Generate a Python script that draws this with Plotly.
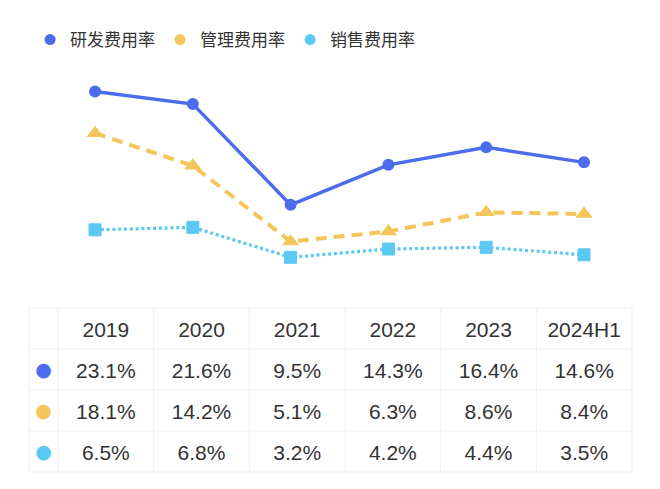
import plotly.graph_objects as go

periods = ["2019", "2020", "2021", "2022", "2023", "2024H1"]
series_names = ["研发费用率", "管理费用率", "销售费用率"]
rd_rate = [23.1, 21.6, 9.5, 14.3, 16.4, 14.6]
admin_rate = [18.1, 14.2, 5.1, 6.3, 8.6, 8.4]
sales_rate = [6.5, 6.8, 3.2, 4.2, 4.4, 3.5]

colors = ["#4B6CEB", "#F4C55B", "#5CC8F4"]
all_values = [rd_rate, admin_rate, sales_rate]

W, H = 660, 489
fig = go.Figure()

# line traces
fig.add_trace(go.Scatter(
    x=periods, y=rd_rate, mode="lines+markers", showlegend=False,
    line=dict(color=colors[0], width=3.5),
    marker=dict(symbol="circle", size=12, color=colors[0])))
fig.add_trace(go.Scatter(
    x=periods, y=admin_rate, mode="lines+markers", showlegend=False,
    line=dict(color=colors[1], width=4, dash="11px,7px"),
    marker=dict(symbol="triangle-up", size=15, color=colors[1])))
fig.add_trace(go.Scatter(
    x=periods, y=sales_rate, mode="lines+markers", showlegend=False,
    line=dict(color=colors[2], width=3.2, dash="3px,2.8px"),
    marker=dict(symbol="square", size=12, color=colors[2],
                line=dict(color=colors[2], width=1))))

# legend entries (circle only)
for name, c in zip(series_names, colors):
    fig.add_trace(go.Scatter(x=[None], y=[None], mode="markers", name=name,
                             marker=dict(symbol="circle", size=11, color=c)))

# table geometry (pixels, from top-left of figure)
t_left, t_right, t_top = 21, 624, 300
row_h = 41
first_w = 29
n_rows = 4
col_w = (t_right - t_left - first_w) / len(periods)
t_bottom = t_top + row_h * n_rows
text_shift = 5

dot_col = ["●", "●", "●"]
cols = [dot_col] + [[f"{all_values[s][i]:.1f}%" for s in range(3)] for i in range(len(periods))]
font_colors = [colors] + [["#333333"] * 3 for _ in periods]
font_fams = ["DejaVu Sans"] + ["Liberation Sans"] * len(periods)
font_sizes = [19] + [21] * len(periods)

fig.add_trace(go.Table(
    domain=dict(x=[t_left / W, t_right / W],
                y=[(H - t_bottom - text_shift) / H, (H - t_top - text_shift) / H]),
    columnwidth=[first_w] + [col_w] * len(periods),
    header=dict(values=[""] + periods, height=row_h, align="center",
                fill_color="rgba(0,0,0,0)", line=dict(color="rgba(0,0,0,0)", width=0),
                font=dict(family="Liberation Sans", size=21, color="#333333")),
    cells=dict(values=cols, height=row_h, align="center",
               fill_color="rgba(0,0,0,0)", line=dict(color="rgba(0,0,0,0)", width=0),
               font=dict(family=font_fams, size=font_sizes, color=font_colors)),
))

# table grid lines
grid = "#EFEFEF"
shapes = []
for r in range(n_rows + 1):
    yy = 1 - (t_top + r * row_h) / H
    shapes.append(dict(type="line", xref="paper", yref="paper",
                       x0=t_left / W, x1=t_right / W, y0=yy, y1=yy,
                       line=dict(color=grid, width=1), layer="below"))
xs = [t_left, t_left + first_w] + [t_left + first_w + col_w * (k + 1) for k in range(len(periods))]
for xx in xs:
    shapes.append(dict(type="line", xref="paper", yref="paper",
                       x0=xx / W, x1=xx / W, y0=1 - t_top / H, y1=1 - t_bottom / H,
                       line=dict(color=grid, width=1), layer="below"))

fig.update_layout(
    width=W, height=H,
    margin=dict(l=0, r=0, t=0, b=0),
    paper_bgcolor="white", plot_bgcolor="rgba(0,0,0,0)",
    shapes=shapes,
    xaxis=dict(type="category", range=[-0.890, 5.859], visible=False,
               domain=[0, 1], fixedrange=True),
    yaxis=dict(range=[-25.57, 33.13], visible=False, domain=[0, 1], fixedrange=True),
    legend=dict(orientation="h", x=22.1 / W, xanchor="left", y=1 - 14 / H, yanchor="top",
                font=dict(family="Noto Sans CJK SC", size=17, color="#333333"),
                bgcolor="rgba(0,0,0,0)"),
    font=dict(family="Noto Sans CJK SC"),
)

fig.write_html("out.html")
